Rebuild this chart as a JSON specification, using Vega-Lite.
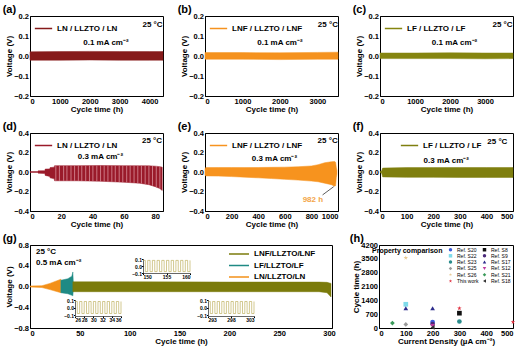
{
"$schema":"https://vega.github.io/schema/vega-lite/v6.json",
"padding":{"left":2,"top":3,"right":0,"bottom":0},
"config":{
 "font":"Liberation Sans",
 "view":{"stroke":"#000","strokeWidth":1},
 "axis":{"grid":false,"ticks":false,"labelOverlap":false,"labelFont":"Liberation Sans","labelFontSize":7.5,"labelFontWeight":"bold","labelColor":"#000","titleFont":"Liberation Sans","titleFontSize":8,"titleFontWeight":"bold","titleColor":"#000","domainColor":"#000","tickColor":"#000","labelPadding":1.5,"titlePadding":0},
 "legend":{"labelFont":"Liberation Sans","labelFontSize":8,"labelFontWeight":"bold","labelColor":"#000","symbolType":"stroke","symbolStrokeWidth":1.5,"symbolSize":300,"padding":0,"rowPadding":0},
 "title":{"font":"Liberation Sans","fontSize":11,"fontWeight":"bold","anchor":"start","frame":"bounds","color":"#000","offset":-3,"dx":-3},
 "text":{"font":"Liberation Sans","fontWeight":"bold","fontSize":8,"color":"#000"}
},
"datasets":{
 "a":[{"cell":"LN / LLZTO / LN","t":0,"hi":0.021,"lo":-0.021},{"cell":"LN / LLZTO / LN","t":1000,"hi":0.022,"lo":-0.021},{"cell":"LN / LLZTO / LN","t":2000,"hi":0.023,"lo":-0.02},{"cell":"LN / LLZTO / LN","t":3000,"hi":0.022,"lo":-0.021},{"cell":"LN / LLZTO / LN","t":4000,"hi":0.022,"lo":-0.021},{"cell":"LN / LLZTO / LN","t":4450,"hi":0.022,"lo":-0.021}],
 "b":[{"cell":"LNF / LLZTO / LNF","t":0,"hi":0.017,"lo":-0.016},{"cell":"LNF / LLZTO / LNF","t":1000,"hi":0.017,"lo":-0.016},{"cell":"LNF / LLZTO / LNF","t":2000,"hi":0.016,"lo":-0.018},{"cell":"LNF / LLZTO / LNF","t":3000,"hi":0.018,"lo":-0.016},{"cell":"LNF / LLZTO / LNF","t":3550,"hi":0.019,"lo":-0.016}],
 "c":[{"cell":"LF / LLZTO / LF","t":0,"hi":0.015,"lo":-0.013},{"cell":"LF / LLZTO / LF","t":1000,"hi":0.015,"lo":-0.013},{"cell":"LF / LLZTO / LF","t":2000,"hi":0.016,"lo":-0.013},{"cell":"LF / LLZTO / LF","t":3000,"hi":0.015,"lo":-0.014},{"cell":"LF / LLZTO / LF","t":3800,"hi":0.015,"lo":-0.013}],
 "d":[{"cell":"LN / LLZTO / LN","t":0,"hi":0.004,"lo":-0.004},{"cell":"LN / LLZTO / LN","t":5,"hi":0.004,"lo":-0.004},{"cell":"LN / LLZTO / LN","t":5.2,"hi":0.012,"lo":-0.012},{"cell":"LN / LLZTO / LN","t":9.5,"hi":0.014,"lo":-0.016},{"cell":"LN / LLZTO / LN","t":9.7,"hi":0.03,"lo":-0.035},{"cell":"LN / LLZTO / LN","t":12.6,"hi":0.032,"lo":-0.045},{"cell":"LN / LLZTO / LN","t":12.8,"hi":0.045,"lo":-0.06},{"cell":"LN / LLZTO / LN","t":15.5,"hi":0.05,"lo":-0.07},{"cell":"LN / LLZTO / LN","t":15.7,"hi":0.065,"lo":-0.09},{"cell":"LN / LLZTO / LN","t":30,"hi":0.065,"lo":-0.09},{"cell":"LN / LLZTO / LN","t":45,"hi":0.066,"lo":-0.095},{"cell":"LN / LLZTO / LN","t":60,"hi":0.065,"lo":-0.105},{"cell":"LN / LLZTO / LN","t":70,"hi":0.064,"lo":-0.115},{"cell":"LN / LLZTO / LN","t":76,"hi":0.063,"lo":-0.13},{"cell":"LN / LLZTO / LN","t":80,"hi":0.06,"lo":-0.15},{"cell":"LN / LLZTO / LN","t":83,"hi":0.055,"lo":-0.17},{"cell":"LN / LLZTO / LN","t":84.5,"hi":0.05,"lo":-0.19}],
 "dstripes":[{"t":16.5,"hi":0.065,"lo":-0.09},{"t":18.8,"hi":0.065,"lo":-0.09},{"t":21.5,"hi":0.065,"lo":-0.09},{"t":23.6,"hi":0.065,"lo":-0.09},{"t":26.2,"hi":0.065,"lo":-0.09},{"t":28.5,"hi":0.065,"lo":-0.09},{"t":30.9,"hi":0.065,"lo":-0.09},{"t":33.1,"hi":0.065,"lo":-0.092},{"t":35.6,"hi":0.065,"lo":-0.092},{"t":38.0,"hi":0.066,"lo":-0.093},{"t":40.2,"hi":0.066,"lo":-0.094},{"t":42.7,"hi":0.066,"lo":-0.094},{"t":45.1,"hi":0.066,"lo":-0.095},{"t":47.4,"hi":0.066,"lo":-0.097},{"t":49.8,"hi":0.066,"lo":-0.098},{"t":52.3,"hi":0.065,"lo":-0.1},{"t":54.5,"hi":0.065,"lo":-0.101},{"t":57.0,"hi":0.065,"lo":-0.103},{"t":59.3,"hi":0.065,"lo":-0.105},{"t":61.8,"hi":0.065,"lo":-0.107},{"t":64.0,"hi":0.064,"lo":-0.109},{"t":66.5,"hi":0.064,"lo":-0.111},{"t":68.9,"hi":0.064,"lo":-0.114},{"t":71.2,"hi":0.064,"lo":-0.118},{"t":73.6,"hi":0.063,"lo":-0.123},{"t":76.0,"hi":0.063,"lo":-0.13},{"t":78.3,"hi":0.062,"lo":-0.14},{"t":80.7,"hi":0.06,"lo":-0.155},{"t":83.0,"hi":0.055,"lo":-0.17}],
 "e":[{"cell":"LNF / LLZTO / LNF","t":0,"hi":0.03,"lo":-0.03},{"cell":"LNF / LLZTO / LNF","t":5,"hi":0.045,"lo":-0.04},{"cell":"LNF / LLZTO / LNF","t":100,"hi":0.046,"lo":-0.042},{"cell":"LNF / LLZTO / LNF","t":200,"hi":0.046,"lo":-0.047},{"cell":"LNF / LLZTO / LNF","t":300,"hi":0.045,"lo":-0.053},{"cell":"LNF / LLZTO / LNF","t":400,"hi":0.046,"lo":-0.06},{"cell":"LNF / LLZTO / LNF","t":500,"hi":0.048,"lo":-0.067},{"cell":"LNF / LLZTO / LNF","t":600,"hi":0.05,"lo":-0.075},{"cell":"LNF / LLZTO / LNF","t":700,"hi":0.054,"lo":-0.083},{"cell":"LNF / LLZTO / LNF","t":800,"hi":0.062,"lo":-0.093},{"cell":"LNF / LLZTO / LNF","t":850,"hi":0.075,"lo":-0.1},{"cell":"LNF / LLZTO / LNF","t":900,"hi":0.095,"lo":-0.115},{"cell":"LNF / LLZTO / LNF","t":950,"hi":0.105,"lo":-0.13},{"cell":"LNF / LLZTO / LNF","t":975,"hi":0.108,"lo":-0.145},{"cell":"LNF / LLZTO / LNF","t":982,"hi":0.1,"lo":-0.14},{"cell":"LNF / LLZTO / LNF","t":987,"hi":0.05,"lo":-0.06},{"cell":"LNF / LLZTO / LNF","t":992,"hi":0.015,"lo":-0.02}],
 "f":[{"cell":"LF / LLZTO / LF","t":0,"hi":0.005,"lo":-0.005},{"cell":"LF / LLZTO / LF","t":6,"hi":0.01,"lo":-0.01},{"cell":"LF / LLZTO / LF","t":10,"hi":0.04,"lo":-0.05},{"cell":"LF / LLZTO / LF","t":100,"hi":0.045,"lo":-0.055},{"cell":"LF / LLZTO / LF","t":200,"hi":0.045,"lo":-0.055},{"cell":"LF / LLZTO / LF","t":300,"hi":0.046,"lo":-0.056},{"cell":"LF / LLZTO / LF","t":400,"hi":0.046,"lo":-0.056},{"cell":"LF / LLZTO / LF","t":500,"hi":0.046,"lo":-0.056}],
 "g":[{"cell":"LN/LLZTO/LN","t":0,"hi":0.01,"lo":-0.01},{"cell":"LN/LLZTO/LN","t":12,"hi":0.015,"lo":-0.02},{"cell":"LN/LLZTO/LN","t":20,"hi":0.06,"lo":-0.06},{"cell":"LN/LLZTO/LN","t":31,"hi":0.14,"lo":-0.12},
      {"cell":"LF/LLZTO/LF","t":31,"hi":0.12,"lo":-0.12},{"cell":"LF/LLZTO/LF","t":38,"hi":0.15,"lo":-0.14},{"cell":"LF/LLZTO/LF","t":42,"hi":0.2,"lo":-0.17},{"cell":"LF/LLZTO/LF","t":43,"hi":0.28,"lo":-0.18},{"cell":"LF/LLZTO/LF","t":43.5,"hi":0.05,"lo":-0.05},
      {"cell":"LNF/LLZTO/LNF","t":43,"hi":0.09,"lo":-0.1},{"cell":"LNF/LLZTO/LNF","t":100,"hi":0.09,"lo":-0.1},{"cell":"LNF/LLZTO/LNF","t":200,"hi":0.085,"lo":-0.1},{"cell":"LNF/LLZTO/LNF","t":290,"hi":0.085,"lo":-0.1},{"cell":"LNF/LLZTO/LNF","t":298,"hi":0.08,"lo":-0.12},{"cell":"LNF/LLZTO/LNF","t":302,"hi":0.06,"lo":-0.2}],
 "in1":[{"t":26,"v":0.08},{"t":26.5,"v":-0.08},{"t":27,"v":0.08},{"t":27.5,"v":-0.08},{"t":28,"v":0.08},{"t":28.5,"v":-0.08},{"t":29,"v":0.08},{"t":29.5,"v":-0.08},{"t":30,"v":0.08},{"t":30.5,"v":-0.08},{"t":31,"v":0.08},{"t":31.5,"v":-0.08},{"t":32,"v":0.08},{"t":32.5,"v":-0.08},{"t":33,"v":0.08},{"t":33.5,"v":-0.08},{"t":34,"v":0.08},{"t":34.5,"v":-0.08},{"t":35,"v":0.08},{"t":35.5,"v":-0.08},{"t":36,"v":0.08}],
 "in2":[{"t":150,"v":0.08},{"t":150.5,"v":-0.08},{"t":151,"v":0.08},{"t":151.5,"v":-0.08},{"t":152,"v":0.08},{"t":152.5,"v":-0.08},{"t":153,"v":0.08},{"t":153.5,"v":-0.08},{"t":154,"v":0.08},{"t":154.5,"v":-0.08},{"t":155,"v":0.08},{"t":155.5,"v":-0.08},{"t":156,"v":0.08},{"t":156.5,"v":-0.08},{"t":157,"v":0.08},{"t":157.5,"v":-0.08},{"t":158,"v":0.08},{"t":158.5,"v":-0.08},{"t":159,"v":0.08},{"t":159.5,"v":-0.08},{"t":160,"v":0.08}],
 "in3":[{"t":293,"v":0.08},{"t":293.5,"v":-0.08},{"t":294,"v":0.08},{"t":294.5,"v":-0.08},{"t":295,"v":0.08},{"t":295.5,"v":-0.08},{"t":296,"v":0.08},{"t":296.5,"v":-0.08},{"t":297,"v":0.08},{"t":297.5,"v":-0.08},{"t":298,"v":0.08},{"t":298.5,"v":-0.08},{"t":299,"v":0.08},{"t":299.5,"v":-0.08},{"t":300,"v":0.08},{"t":300.5,"v":-0.08},{"t":301,"v":0.08},{"t":301.5,"v":-0.08},{"t":302,"v":0.08},{"t":302.5,"v":-0.08},{"t":303,"v":0.08}],
 "h":[{"ref":"Ref. S21","cd":50,"t":250},{"ref":"Ref. S22","cd":100,"t":1200},{"ref":"Ref. S17","cd":100,"t":1000},{"ref":"Ref. S25","cd":100,"t":180},{"ref":"Ref. S26","cd":100,"t":3550},{"ref":"Ref. S17","cd":200,"t":1000},{"ref":"Ref. S20","cd":200,"t":300},{"ref":"Ref. S9","cd":200,"t":200},{"ref":"Ref. S12","cd":200,"t":100},{"ref":"Ref. S18","cd":200,"t":30},{"ref":"This work","cd":300,"t":1000},{"ref":"Ref. S8","cd":300,"t":750},{"ref":"Ref. S23","cd":300,"t":330},{"ref":"This work","cd":500,"t":300}]
},
"spacing":3,
"resolve":{"scale":{"fill":"independent","stroke":"independent","color":"independent","shape":"independent"},"legend":{"fill":"independent","stroke":"independent","color":"independent","shape":"independent"}},
"vconcat":[
 {"spacing":6,
  "resolve":{"scale":{"fill":"independent","stroke":"independent","color":"independent","shape":"independent"},"legend":{"fill":"independent","stroke":"independent","color":"independent","shape":"independent"}},
  "vconcat":[
  {"hconcat":[
   {"title":{"text":"(a)"},"width":133,"height":80,"layer":[
     {"data":{"name":"a"},"mark":{"type":"area","strokeWidth":0.5},"encoding":{
       "x":{"field":"t","type":"quantitative","scale":{"domain":[0,4450],"nice":false},"axis":{"values":[0,1000,2000,3000,4000],"tickCount":20,"format":"d","title":"Cycle time (h)"}},
       "y":{"field":"hi","type":"quantitative","stack":null,"scale":{"domain":[-0.2,0.2],"nice":false},"axis":{"values":[-0.2,-0.1,0,0.1,0.2],"tickCount":20,"format":".1f","title":"Voltage (V)"}},
       "y2":{"field":"lo"},
       "fill":{"field":"cell","type":"nominal","scale":{"range":["#861a1a"]},"legend":{"title":null,"orient":"none","legendX":4,"legendY":3}},
       "stroke":{"field":"cell","type":"nominal","scale":{"range":["#861a1a"]},"legend":{"title":null,"orient":"none","legendX":4,"legendY":3}}}},
     {"data":{"values":[{"s":"25 °C"}]},"mark":{"type":"text"},"encoding":{"x":{"datum":4100},"y":{"datum":0.155},"text":{"field":"s"}}},
     {"data":{"values":[{"s":"0.1 mA cm⁻²"}]},"mark":{"type":"text"},"encoding":{"x":{"datum":2540},"y":{"datum":0.063},"text":{"field":"s"}}}
   ]},
   {"title":{"text":"(b)"},"width":133,"height":80,"layer":[
     {"data":{"name":"b"},"mark":{"type":"area","strokeWidth":0.5},"encoding":{
       "x":{"field":"t","type":"quantitative","scale":{"domain":[0,3550],"nice":false},"axis":{"values":[0,1000,2000,3000],"tickCount":20,"format":"d","title":"Cycle time (h)"}},
       "y":{"field":"hi","type":"quantitative","stack":null,"scale":{"domain":[-0.2,0.2],"nice":false},"axis":{"values":[-0.2,-0.1,0,0.1,0.2],"tickCount":20,"format":".1f","title":"Voltage (V)"}},
       "y2":{"field":"lo"},
       "fill":{"field":"cell","type":"nominal","scale":{"range":["#f5921e"]},"legend":{"title":null,"orient":"none","legendX":4,"legendY":3}},
       "stroke":{"field":"cell","type":"nominal","scale":{"range":["#f5921e"]},"legend":{"title":null,"orient":"none","legendX":4,"legendY":3}}}},
     {"data":{"values":[{"s":"25 °C"}]},"mark":{"type":"text"},"encoding":{"x":{"datum":3280},"y":{"datum":0.155},"text":{"field":"s"}}},
     {"data":{"values":[{"s":"0.1 mA cm⁻²"}]},"mark":{"type":"text"},"encoding":{"x":{"datum":2000},"y":{"datum":0.063},"text":{"field":"s"}}}
   ]},
   {"title":{"text":"(c)"},"width":133,"height":80,"layer":[
     {"data":{"name":"c"},"mark":{"type":"area","strokeWidth":0.5},"encoding":{
       "x":{"field":"t","type":"quantitative","scale":{"domain":[0,3800],"nice":false},"axis":{"values":[0,1000,2000,3000],"tickCount":20,"format":"d","title":"Cycle time (h)"}},
       "y":{"field":"hi","type":"quantitative","stack":null,"scale":{"domain":[-0.2,0.2],"nice":false},"axis":{"values":[-0.2,-0.1,0,0.1,0.2],"tickCount":20,"format":".1f","title":"Voltage (V)"}},
       "y2":{"field":"lo"},
       "fill":{"field":"cell","type":"nominal","scale":{"range":["#85850f"]},"legend":{"title":null,"orient":"none","legendX":4,"legendY":3}},
       "stroke":{"field":"cell","type":"nominal","scale":{"range":["#85850f"]},"legend":{"title":null,"orient":"none","legendX":4,"legendY":3}}}},
     {"data":{"values":[{"s":"25 °C"}]},"mark":{"type":"text"},"encoding":{"x":{"datum":3500},"y":{"datum":0.155},"text":{"field":"s"}}},
     {"data":{"values":[{"s":"0.1 mA cm⁻²"}]},"mark":{"type":"text"},"encoding":{"x":{"datum":2130},"y":{"datum":0.063},"text":{"field":"s"}}}
   ]}
  ],"spacing":42,"bounds":"flush",
  "resolve":{"scale":{"fill":"independent","stroke":"independent","color":"independent","shape":"independent"},"legend":{"fill":"independent","stroke":"independent","color":"independent","shape":"independent"}}},
  {"hconcat":[
   {"title":{"text":"(d)"},"width":133,"height":78,"layer":[
     {"data":{"name":"d"},"mark":{"type":"area","strokeWidth":0.5},"encoding":{
       "x":{"field":"t","type":"quantitative","scale":{"domain":[0,85],"nice":false},"axis":{"values":[0,20,40,60,80],"tickCount":20,"title":"Cycle time (h)"}},
       "y":{"field":"hi","type":"quantitative","stack":null,"scale":{"domain":[-0.4,0.4],"nice":false},"axis":{"values":[-0.4,-0.2,0,0.2,0.4],"tickCount":20,"format":".1f","title":"Voltage (V)"}},
       "y2":{"field":"lo"},
       "fill":{"field":"cell","type":"nominal","scale":{"range":["#9a1a2a"]},"legend":{"title":null,"orient":"none","legendX":4,"legendY":3}},
       "stroke":{"field":"cell","type":"nominal","scale":{"range":["#9a1a2a"]},"legend":{"title":null,"orient":"none","legendX":4,"legendY":3}}}},
     {"data":{"name":"dstripes"},"mark":{"type":"rule","color":"#e3a2ac","strokeWidth":0.7},"encoding":{"x":{"field":"t","type":"quantitative"},"y":{"field":"hi","type":"quantitative"},"y2":{"field":"lo"}}},
     {"data":{"values":[{"s":"25 °C"}]},"mark":{"type":"text"},"encoding":{"x":{"datum":78},"y":{"datum":0.315},"text":{"field":"s"}}},
     {"data":{"values":[{"s":"0.3 mA cm⁻²"}]},"mark":{"type":"text"},"encoding":{"x":{"datum":45},"y":{"datum":0.15},"text":{"field":"s"}}}
   ]},
   {"title":{"text":"(e)"},"width":133,"height":78,"layer":[
     {"data":{"name":"e"},"mark":{"type":"area","strokeWidth":0.5},"encoding":{
       "x":{"field":"t","type":"quantitative","scale":{"domain":[0,1000],"nice":false},"axis":{"values":[0,200,400,600,800,1000],"tickCount":20,"format":"d","title":"Cycle time (h)"}},
       "y":{"field":"hi","type":"quantitative","stack":null,"scale":{"domain":[-0.4,0.4],"nice":false},"axis":{"values":[-0.4,-0.2,0,0.2,0.4],"tickCount":20,"format":".1f","title":"Voltage (V)"}},
       "y2":{"field":"lo"},
       "fill":{"field":"cell","type":"nominal","scale":{"range":["#f7931e"]},"legend":{"title":null,"orient":"none","legendX":4,"legendY":3}},
       "stroke":{"field":"cell","type":"nominal","scale":{"range":["#f7931e"]},"legend":{"title":null,"orient":"none","legendX":4,"legendY":3}}}},
     {"data":{"values":[{}]},"mark":{"type":"rule","color":"#333","strokeWidth":0.8},"encoding":{"x":{"datum":884},"x2":{"datum":968},"y":{"datum":-0.235},"y2":{"datum":-0.15}}},
     {"data":{"values":[{"s":"982 h"}]},"mark":{"type":"text","color":"#f3a548"},"encoding":{"x":{"datum":811},"y":{"datum":-0.287},"text":{"field":"s"}}},
     {"data":{"values":[{"s":"25 °C"}]},"mark":{"type":"text"},"encoding":{"x":{"datum":922},"y":{"datum":0.317},"text":{"field":"s"}}},
     {"data":{"values":[{"s":"0.3 mA cm⁻²"}]},"mark":{"type":"text"},"encoding":{"x":{"datum":522},"y":{"datum":0.13},"text":{"field":"s"}}}
   ]},
   {"title":{"text":"(f)"},"width":133,"height":78,"layer":[
     {"data":{"name":"f"},"mark":{"type":"area","strokeWidth":0.5},"encoding":{
       "x":{"field":"t","type":"quantitative","scale":{"domain":[0,500],"nice":false},"axis":{"values":[0,100,200,300,400,500],"tickCount":20,"title":"Cycle time (h)"}},
       "y":{"field":"hi","type":"quantitative","stack":null,"scale":{"domain":[-0.4,0.4],"nice":false},"axis":{"values":[-0.4,-0.2,0,0.2,0.4],"tickCount":20,"format":".1f","title":"Voltage (V)"}},
       "y2":{"field":"lo"},
       "fill":{"field":"cell","type":"nominal","scale":{"range":["#7f7f0f"]},"legend":{"title":null,"orient":"none","legendX":20,"legendY":3}},
       "stroke":{"field":"cell","type":"nominal","scale":{"range":["#7f7f0f"]},"legend":{"title":null,"orient":"none","legendX":20,"legendY":3}}}},
     {"data":{"values":[{"s":"25 °C"}]},"mark":{"type":"text"},"encoding":{"x":{"datum":441},"y":{"datum":0.304},"text":{"field":"s"}}},
     {"data":{"values":[{"s":"0.3 mA cm⁻²"}]},"mark":{"type":"text"},"encoding":{"x":{"datum":249},"y":{"datum":0.109},"text":{"field":"s"}}}
   ]}
  ],"spacing":42,"bounds":"flush",
  "resolve":{"scale":{"fill":"independent","stroke":"independent","color":"independent","shape":"independent"},"legend":{"fill":"independent","stroke":"independent","color":"independent","shape":"independent"}}}
 ]},
 {"hconcat":[
   {"title":{"text":"(g)"},"width":302,"height":83,
    "resolve":{"scale":{"x":"independent","y":"independent"},"axis":{"x":"independent","y":"independent"}},
    "layer":[
     {"layer":[
       {"data":{"name":"g"},"mark":{"type":"area","strokeWidth":0.5},"encoding":{
         "x":{"field":"t","type":"quantitative","scale":{"domain":[0,303],"nice":false},"axis":{"orient":"bottom","values":[0,50,100,150,200,250,300],"tickCount":20,"title":"Cycle time (h)"}},
         "y":{"field":"hi","type":"quantitative","stack":null,"scale":{"domain":[-0.8,0.8],"nice":false},"axis":{"orient":"left","values":[-0.8,-0.4,0,0.4,0.8],"tickCount":20,"format":".1f","title":"Voltage (V)"}},
         "y2":{"field":"lo"},
         "fill":{"field":"cell","type":"nominal","scale":{"domain":["LNF/LLZTO/LNF","LF/LLZTO/LF","LN/LLZTO/LN"],"range":["#7b7b0b","#1f8a84","#f39019"]},"legend":{"title":null,"orient":"none","legendX":208,"legendY":3,"symbolType":"M-3,0H1","symbolSize":100,"rowPadding":1.5}},
         "stroke":{"field":"cell","type":"nominal","scale":{"domain":["LNF/LLZTO/LNF","LF/LLZTO/LF","LN/LLZTO/LN"],"range":["#7b7b0b","#1f8a84","#f39019"]},"legend":{"title":null,"orient":"none","legendX":208,"legendY":3,"symbolType":"M-3,0H1","symbolSize":100,"rowPadding":1.5}}}},
       {"data":{"values":[{"s":"25 °C"}]},"mark":{"type":"text","align":"left"},"encoding":{"x":{"datum":6},"y":{"datum":0.66},"text":{"field":"s"}}},
       {"data":{"values":[{"s":"0.5 mA cm⁻²"}]},"mark":{"type":"text","align":"left"},"encoding":{"x":{"datum":6},"y":{"datum":0.45},"text":{"field":"s"}}}
     ]},
     {"data":{"name":"in1"},"mark":{"type":"line","interpolate":"step-after","strokeWidth":0.6,"color":"#b5a546"},"encoding":{
       "x":{"field":"t","type":"quantitative","scale":{"domain":[26,36],"range":[45,91],"nice":false,"zero":false},"axis":{"orient":"bottom","offset":-12,"values":[26,28,30,32,34,36],"tickCount":20,"format":"d","title":null,"labelFontSize":5,"ticks":true,"tickSize":1.5,"labelPadding":0,"domainWidth":0.6}},
       "y":{"field":"v","type":"quantitative","scale":{"domain":[-0.1,0.1],"range":[70,55],"nice":false,"zero":false},"axis":{"orient":"left","offset":-45,"values":[-0.1,0,0.1],"tickCount":20,"format":".1f","title":null,"labelFontSize":5,"ticks":true,"tickSize":1.5,"labelPadding":0,"domainWidth":0.6}}}},
     {"data":{"name":"in2"},"mark":{"type":"line","interpolate":"step-after","strokeWidth":0.6,"color":"#b5a546"},"encoding":{
       "x":{"field":"t","type":"quantitative","scale":{"domain":[150,160],"range":[113,160],"nice":false,"zero":false},"axis":{"orient":"bottom","offset":-55,"values":[150,155,160],"tickCount":20,"format":"d","title":null,"labelFontSize":5,"ticks":true,"tickSize":1.5,"labelPadding":0,"domainWidth":0.6}},
       "y":{"field":"v","type":"quantitative","scale":{"domain":[-0.1,0.1],"range":[28,14],"nice":false,"zero":false},"axis":{"orient":"left","offset":-113,"values":[-0.1,0,0.1],"tickCount":20,"format":".1f","title":null,"labelFontSize":5,"ticks":true,"tickSize":1.5,"labelPadding":0,"domainWidth":0.6}}}},
     {"data":{"name":"in3"},"mark":{"type":"line","interpolate":"step-after","strokeWidth":0.6,"color":"#b5a546"},"encoding":{
       "x":{"field":"t","type":"quantitative","scale":{"domain":[293,303],"range":[178,224],"nice":false,"zero":false},"axis":{"orient":"bottom","offset":-12,"values":[293,298,303],"tickCount":20,"format":"d","title":null,"labelFontSize":5,"ticks":true,"tickSize":1.5,"labelPadding":0,"domainWidth":0.6}},
       "y":{"field":"v","type":"quantitative","scale":{"domain":[-0.1,0.1],"range":[70,55],"nice":false,"zero":false},"axis":{"orient":"left","offset":-178,"values":[-0.1,0,0.1],"tickCount":20,"format":".1f","title":null,"labelFontSize":5,"ticks":true,"tickSize":1.5,"labelPadding":0,"domainWidth":0.6}}}}
   ]},
   {"title":{"text":"(h)"},"width":134,"height":83,"data":{"name":"h"},
    "mark":{"type":"point","filled":true,"size":22,"opacity":1},
    "encoding":{
     "x":{"field":"cd","type":"quantitative","scale":{"domain":[0,500],"nice":false},"axis":{"values":[0,100,200,300,400,500],"tickCount":20,"title":"Current Density (µA cm⁻²)"}},
     "y":{"field":"t","type":"quantitative","scale":{"domain":[0,4200],"nice":false},"axis":{"values":[0,700,1400,2100,2800,3500,4200],"tickCount":20,"format":"d","title":"Cycle time (h)"}},
     "color":{"field":"ref","type":"nominal","scale":{"domain":["Ref. S20","Ref. S22","Ref. S23","Ref. S25","Ref. S26","This work","Ref. S8","Ref. S9","Ref. S17","Ref. S12","Ref. S21","Ref. S18"],"range":["#3b5bdb","#7fdbea","#2a8c8c","#9a9a9a","#e8c890","#e03040","#111111","#4b2a7a","#2c2c8c","#c03aa0","#3a9a5a","#333333"]},
       "legend":{"title":"Property comparison","titleOrient":"left","titleAnchor":"start","titleBaseline":"top","titleFontSize":7,"titleFontWeight":"bold","titleColor":"#000","labelFontSize":5,"labelFontWeight":"normal","columns":2,"columnPadding":3,"rowPadding":0.3,"symbolSize":12,"symbolStrokeWidth":0,"orient":"top-right","offset":1,"padding":1}},
     "shape":{"field":"ref","type":"nominal","scale":{"domain":["Ref. S20","Ref. S22","Ref. S23","Ref. S25","Ref. S26","This work","Ref. S8","Ref. S9","Ref. S17","Ref. S12","Ref. S21","Ref. S18"],"range":["circle","square","circle","diamond","M0,-1L0.22,-0.31L0.95,-0.31L0.36,0.12L0.59,0.81L0,0.38L-0.59,0.81L-0.36,0.12L-0.95,-0.31L-0.22,-0.31Z","M0,-1L0.22,-0.31L0.95,-0.31L0.36,0.12L0.59,0.81L0,0.38L-0.59,0.81L-0.36,0.12L-0.95,-0.31L-0.22,-0.31Z","square","circle","triangle-up","triangle-down","diamond","triangle-left"]},
       "legend":{"title":"Property comparison","titleOrient":"left","titleAnchor":"start","titleBaseline":"top","titleFontSize":7,"titleFontWeight":"bold","titleColor":"#000","labelFontSize":5,"labelFontWeight":"normal","columns":2,"columnPadding":3,"rowPadding":0.3,"symbolSize":12,"symbolStrokeWidth":0,"orient":"top-right","offset":1,"padding":1}}
    }}
 ],"spacing":47,"bounds":"flush",
 "resolve":{"scale":{"fill":"independent","stroke":"independent","color":"independent","shape":"independent"},"legend":{"fill":"independent","stroke":"independent","color":"independent","shape":"independent"}}}
]
}
